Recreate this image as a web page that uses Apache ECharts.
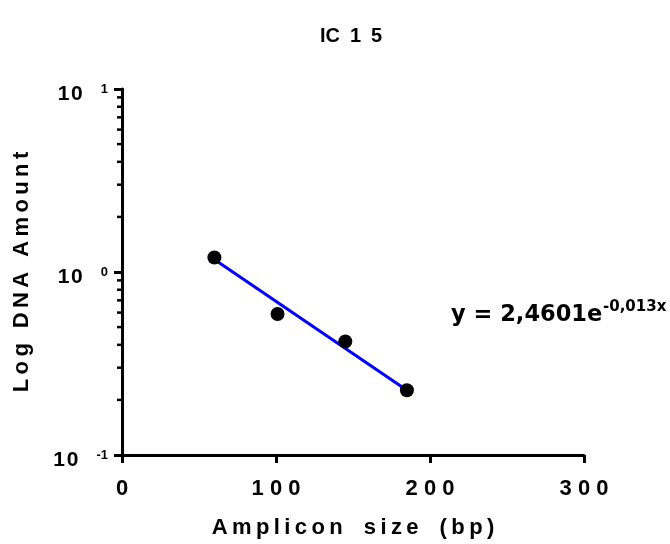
<!DOCTYPE html>
<html>
<head>
<meta charset="utf-8">
<script src="https://cdn.jsdelivr.net/npm/echarts@6/dist/echarts.min.js"></script>
<style>
html,body{margin:0;padding:0;background:#fff;}
#c{width:670px;height:544px;}
</style>
</head>
<body>
<div id="c"></div>
<script>
// ---- data ----
const ampliconSize = [60, 101, 145, 185];
const dnaAmount = [1.20, 0.59, 0.417, 0.226];
const fitX = [60, 185];
const fitY = [1.17, 0.226];
const xTicks = [0, 100, 200, 300];
const yTickExponents = [-1, 0, 1];
const yMinorTicks = [0.2, 0.3, 0.4, 0.5, 0.6, 0.7, 0.8, 0.9, 2, 3, 4, 5, 6, 7, 8, 9];
const chartTitle = 'IC15';
const xTitle = 'Amplicon size (bp)';
const yTitle = 'Log DNA Amount';
const equationMain = 'y = 2,4601e';
const equationExp = '-0,013x';

const FONT = 'Liberation Sans, Arial, sans-serif';
const THIN = '\u2009';
const spaced = (s, sep, wordSep) => s.split(' ').map(w => w.split('').join(sep)).join(wordSep);

const chart = echarts.init(document.getElementById('c'), null, {renderer: 'canvas'});
const option = {
  backgroundColor: '#fff',
  animation: false,
  title: {
    text: chartTitle.slice(0, 2) + '\u2002' + chartTitle.slice(2).split('').join('\u2002'),
    left: 351,
    top: 26,
    textAlign: 'center',
    padding: 0,
    textStyle: {fontFamily: FONT, fontSize: 20, fontWeight: 'bold', color: '#000'}
  },
  grid: {left: 122, right: 86, top: 89, bottom: 87, containLabel: false},
  xAxis: {
    type: 'value',
    min: xTicks[0],
    max: xTicks[xTicks.length - 1],
    interval: 100,
    name: spaced(xTitle, THIN, THIN + '  ' + THIN),
    nameLocation: 'middle',
    nameGap: 62,
    nameTextStyle: {fontFamily: FONT, fontSize: 22, fontWeight: 'bold', color: '#000'},
    axisLine: {show: true, lineStyle: {color: '#000', width: 3}},
    axisTick: {show: true, length: 8, inside: false, lineStyle: {color: '#000', width: 3}},
    splitLine: {show: false},
    axisLabel: {
      margin: 23,
      fontFamily: FONT, fontSize: 22, fontWeight: 'bold', color: '#000',
      formatter: v => String(v).split('').join(' ')
    }
  },
  yAxis: {
    type: 'log',
    logBase: 10,
    min: Math.pow(10, yTickExponents[0]),
    max: Math.pow(10, yTickExponents[yTickExponents.length - 1]),
    name: spaced(yTitle, THIN, THIN + ' ' + THIN),
    nameLocation: 'middle',
    nameGap: 89,
    nameTextStyle: {fontFamily: FONT, fontSize: 22, fontWeight: 'bold', color: '#000'},
    axisLine: {show: true, lineStyle: {color: '#000', width: 3}},
    axisTick: {show: true, length: 8, inside: false, lineStyle: {color: '#000', width: 3}},
    splitLine: {show: false},
    minorTick: {show: false},
    axisLabel: {
      margin: 14,
      padding: [10, 0, 0, 0],
      formatter: v => {
        const e = Math.round(Math.log10(v));
        return '{b|1\u200a0}{s|' + e + '}';
      },
      rich: {
        b: {fontFamily: FONT, fontSize: 21, fontWeight: 'bold', color: '#000', lineHeight: 22, padding: [8, 0, 0, 0], verticalAlign: 'bottom'},
        s: {fontFamily: FONT, fontSize: 13, fontWeight: 'bold', color: '#000', lineHeight: 14, padding: [0, 0, 0, 18], verticalAlign: 'top'}
      }
    }
  },
  graphic: [
    {
      type: 'text',
      left: 451,
      top: 304,
      style: {text: equationMain, font: 'bold 22.5px "DejaVu Sans"', fill: '#000'}
    },
    {
      type: 'text',
      left: 603,
      top: 300,
      style: {text: equationExp, font: 'bold 15px "DejaVu Sans"', fill: '#000'}
    }
  ],
  series: [
    {
      type: 'custom',
      silent: true,
      clip: false,
      renderItem: (params, api) => {
        const p = api.coord([0, api.value(1)]);
        return {
          type: 'line',
          shape: {x1: p[0] - 5, y1: p[1], x2: p[0], y2: p[1]},
          style: {stroke: '#000', lineWidth: 2.5}
        };
      },
      encode: {x: 0, y: 1},
      data: yMinorTicks.map(v => [0, v]),
      z: 5
    },
    {
      type: 'line',
      data: fitX.map((x, i) => [x, fitY[i]]),
      symbol: 'none',
      lineStyle: {color: '#0000ff', width: 3, opacity: 1},
      z: 2
    },
    {
      type: 'scatter',
      data: ampliconSize.map((x, i) => [x, dnaAmount[i]]),
      symbol: 'circle',
      symbolSize: 14,
      itemStyle: {color: '#000', opacity: 1},
      z: 3
    }
  ]
};
chart.setOption(option);
</script>
</body>
</html>
